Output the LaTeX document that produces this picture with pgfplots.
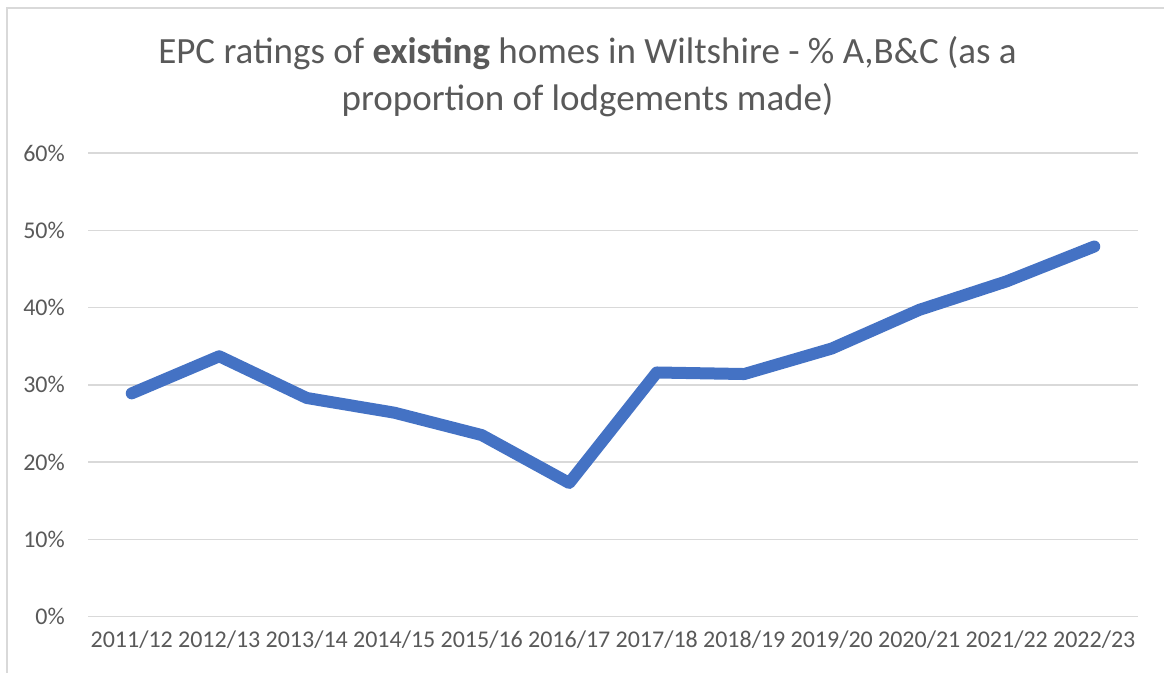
\documentclass[border=0pt]{standalone}
\usepackage{pgfplots}
\pgfplotsset{compat=1.18}
\usepackage{fontspec}
\setmainfont{Carlito}
\definecolor{txt}{HTML}{595959}
\definecolor{ln}{HTML}{4472C4}
\definecolor{grd}{HTML}{D9D9D9}
\begin{document}
\begin{tikzpicture}[x=1pt,y=1pt]
\path[use as bounding box] (0,0) rectangle (1164,672);
\draw[grd, line width=2pt] (7,-5) -- (7,664) -- (1170,664);
\node[anchor=base, text=txt, font=\fontsize{37}{44}\selectfont, inner sep=0pt] at (587.5,608.3) {EPC ratings of \textbf{existing} homes in Wiltshire - \% A,B\&C (as a};
\node[anchor=base, text=txt, font=\fontsize{37}{44}\selectfont, inner sep=0pt] at (587.5,561) {proportion of lodgements made)};
\begin{axis}[
  at={(88pt,55.3pt)}, anchor=south west,
  scale only axis, width=1050pt, height=463.7pt,
  xmin=-0.5, xmax=11.5, ymin=0, ymax=60,
  ytick={0,10,20,30,40,50,60},
  yticklabel={\pgfmathprintnumber{\tick}\%},
  xtick={0,...,11},
  xticklabels={2011/12,2012/13,2013/14,2014/15,2015/16,2016/17,2017/18,2018/19,2019/20,2020/21,2021/22,2022/23},
  axis line style={draw=none},
  major tick length=0pt,
  tick style={draw=none},
  ymajorgrids,
  grid style={grd, line width=1.5pt},
  tick label style={text=txt, font=\fontsize{24}{29}\selectfont},
  yticklabel style={anchor=east, inner sep=0pt, xshift=-23pt},
  xticklabel style={anchor=north, inner sep=0pt, yshift=-14pt},
  clip=false,
  /pgf/number format/assume math mode=true,
]
\addplot[ln, line width=12pt, line join=round, line cap=round] coordinates {
(0,28.9) (1,33.7) (2,28.3) (3,26.4) (4,23.5) (5,17.3) (6,31.6) (7,31.4) (8,34.7) (9,39.7) (10,43.4) (11,47.9)
};
\end{axis}
\end{tikzpicture}
\end{document}
